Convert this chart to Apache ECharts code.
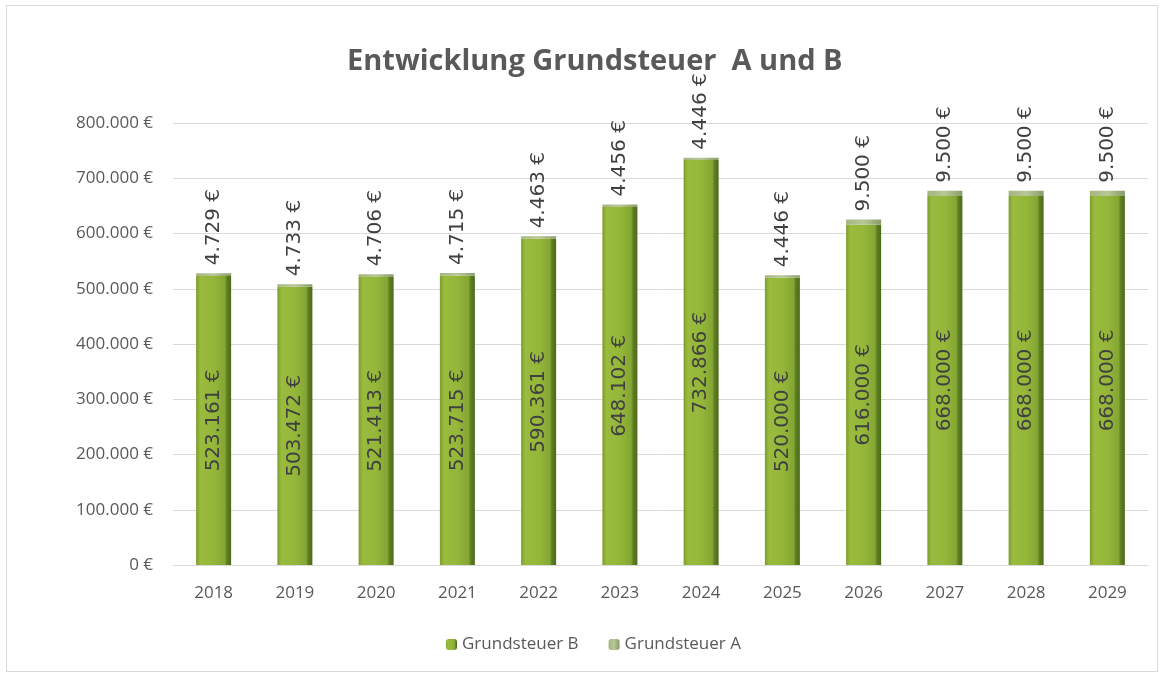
<!DOCTYPE html>
<html><head><meta charset="utf-8">
<script src="https://cdn.jsdelivr.net/npm/echarts@6/dist/echarts.min.js"></script>
<style>html,body{margin:0;padding:0;background:#fff}#c{width:1166px;height:680px}
#frame{position:absolute;left:6px;top:5px;width:1152px;height:667px;border:1px solid #d9d9d9;box-sizing:border-box;pointer-events:none}</style>
</head><body><div id="c"></div><div id="frame"></div>
<script>
const categories = ['2018','2019','2020','2021','2022','2023','2024','2025','2026','2027','2028','2029'];
const grundsteuerB = [523161, 503472, 521413, 523715, 590361, 648102, 732866, 520000, 616000, 668000, 668000, 668000];
const grundsteuerA = [4729, 4733, 4706, 4715, 4463, 4456, 4446, 4446, 9500, 9500, 9500, 9500];
const yTicks = [0, 100000, 200000, 300000, 400000, 500000, 600000, 700000, 800000];

const fmt = v => v.toString().replace(/\B(?=(\d{3})+(?!\d))/g, '.') + ' €';
const font = '"Open Sans", "Noto Sans", sans-serif';
const labelFont = '"DejaVu Sans", "Noto Sans", sans-serif';
const chart = echarts.init(document.getElementById('c'));
const gB = new echarts.graphic.LinearGradient(0,0,1,0,[
  {offset:0,color:'#7c9c2d'},{offset:0.12,color:'#9abb3d'},{offset:0.5,color:'#94b73a'},
  {offset:0.82,color:'#84a633'},{offset:0.88,color:'#5f7f22'},{offset:1,color:'#4c6a1a'}]);
const gA = new echarts.graphic.LinearGradient(0,0,1,0,[
  {offset:0,color:'#a3b57f'},{offset:0.5,color:'#b8c797'},{offset:1,color:'#8a9c68'}]);
chart.setOption({
  animation:false,
  title:{text:'Entwicklung Grundsteuer  A und B',left:342,top:42,
    textStyle:{fontFamily:font,fontSize:29,fontWeight:'bold',color:'#595959'}},
  grid:{left:173,right:18,top:123,bottom:115,containLabel:false},
  legend:{bottom:22,left:441,itemWidth:11,itemHeight:11,itemGap:30,
    textStyle:{fontFamily:font,fontSize:17,color:'#595959'},
    data:['Grundsteuer B','Grundsteuer A']},
  xAxis:{type:'category',data:categories,
    axisLine:{lineStyle:{color:'#d9d9d9',width:1}},axisTick:{show:false},
    axisLabel:{fontFamily:font,fontSize:17,color:'#595959',margin:20}},
  yAxis:{type:'value',min:0,max:800000,interval:100000,
    axisLine:{show:false},axisTick:{show:false},
    splitLine:{lineStyle:{color:'#d9d9d9',width:1}},
    axisLabel:{fontFamily:font,fontSize:17,color:'#595959',margin:20,
      formatter:v=>yTicks.includes(v)?fmt(v):''}},
  series:[
    {name:'Grundsteuer B',type:'bar',stack:'s',barWidth:35,data:grundsteuerB,
     itemStyle:{color:gB},
     label:{show:true,position:'inside',rotate:90,fontFamily:labelFont,fontSize:20,color:'#404040',
       formatter:p=>fmt(p.value)}},
    {name:'Grundsteuer A',type:'bar',stack:'s',barWidth:35,data:grundsteuerA,
     itemStyle:{color:gA},
     label:{show:true,position:'top',rotate:90,align:'left',verticalAlign:'middle',distance:8,
       fontFamily:labelFont,fontSize:20,color:'#404040',formatter:p=>fmt(p.value)}}
  ]
});
</script></body></html>
